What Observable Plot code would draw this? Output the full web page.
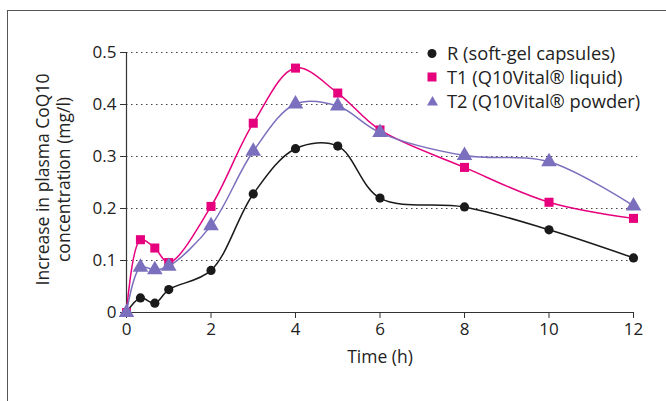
<!DOCTYPE html>
<html><head><meta charset="utf-8">
<script src="https://cdn.jsdelivr.net/npm/d3@7"></script>
<script src="https://cdn.jsdelivr.net/npm/@observablehq/plot@0.6"></script>
<style>
html,body{margin:0;padding:0;background:#fff;overflow:hidden;}
#wrap{position:relative;width:666px;height:401px;overflow:hidden;font-family:"Open Sans",sans-serif;}
#frame{position:absolute;left:7px;top:10px;width:700px;height:450px;border:1.5px solid #555;box-sizing:border-box;}
#legend{position:absolute;left:418px;top:40px;width:240px;height:76px;background:#fff;}
.li{position:absolute;left:29px;font-size:18.3px;color:#222;white-space:nowrap;line-height:22px;}
#legend svg{position:absolute;left:0;top:0;}
</style></head>
<body><div id="wrap"><div id="frame"></div><div id="chart"></div>
<div id="legend">
<svg width="30" height="76">
<circle cx="14" cy="13.5" r="4.5" fill="#1a1a1a"/>
<rect x="9.5" y="32.5" width="9" height="9" fill="#e6007e"/>
<path d="M14.5,56 L20,65.5 L9,65.5 Z" fill="#7b70bd"/>
</svg>
<div class="li" style="top:2px">R (soft-gel capsules)</div>
<div class="li" style="top:26px">T1 (Q10Vital® liquid)</div>
<div class="li" style="top:50px">T2 (Q10Vital® powder)</div>
</div></div>
<script>
const times = [0, 0.33, 0.67, 1, 2, 3, 4, 5, 6, 8, 10, 12];
const R  = [0, 0.028, 0.018, 0.044, 0.081, 0.228, 0.315, 0.320, 0.220, 0.203, 0.159, 0.105];
const T1 = [0, 0.140, 0.124, 0.096, 0.204, 0.364, 0.470, 0.422, 0.351, 0.279, 0.212, 0.181];
const T2 = [0, 0.087, 0.082, 0.089, 0.167, 0.310, 0.401, 0.397, 0.346, 0.302, 0.290, 0.205];
const xTicks = [0, 2, 4, 6, 8, 10, 12];
const yTicks = [0, 0.1, 0.2, 0.3, 0.4, 0.5];
const series = [
  {name: "R", vals: R, color: "#1a1a1a", symbol: "circle", r: 4.6},
  {name: "T1", vals: T1, color: "#e6007e", symbol: "square", r: 5.1},
  {name: "T2", vals: T2, color: "#7b70bd", symbol: "triangle", r: 5.8}
];
const marks = [
  Plot.gridY(yTicks.slice(1), {stroke: "#444", strokeOpacity: 1, strokeDasharray: "1.5,3.5", strokeWidth: 1.2, x1: 0, x2: 12.1}),
  Plot.ruleY([0], {stroke: "#333", strokeWidth: 1.2}),
  Plot.ruleX([0], {y1: 0, y2: 0.5, stroke: "#333", strokeWidth: 1.2}),
  Plot.axisX({ticks: xTicks, tickSize: 6, tickPadding: 4, fontSize: 17, label: null, stroke: "#333", color: "#222"}),
  Plot.axisY({ticks: yTicks, tickSize: 6, tickPadding: 4, fontSize: 17, label: null, tickFormat: d => d === 0 ? "0" : String(d), stroke: "#333", color: "#222"}),
  Plot.text(["Time (h)"], {frameAnchor: "bottom", dy: 50, fontSize: 17.5, fill: "#222"}),
  Plot.text(["Increase in plasma CoQ10\nconcentration (mg/l)"], {frameAnchor: "left", dx: -74, dy: -3, rotate: -90, textAnchor: "middle", fontSize: 17.5, lineHeight: 1.2, fill: "#222"})
];
for (const s of series) {
  const data = times.map((t, i) => ({t, v: s.vals[i]}));
  marks.push(Plot.line(data, {x: "t", y: "v", curve: "catmull-rom", stroke: s.color, strokeWidth: 1.5}));
  marks.push(Plot.dot(data, {x: "t", y: "v", symbol: () => s.symbol, fill: s.color, r: s.r, stroke: "none"}));
}
const chart = Plot.plot({
  width: 666, height: 401,
  marginLeft: 126, marginRight: 33, marginTop: 52, marginBottom: 89,
  style: {fontFamily: "'Open Sans', sans-serif", background: "transparent"},
  x: {domain: [0, 12]},
  y: {domain: [0, 0.5]},
  symbol: {type: "identity"},
  marks
});
document.getElementById("chart").appendChild(chart);
</script></body></html>
